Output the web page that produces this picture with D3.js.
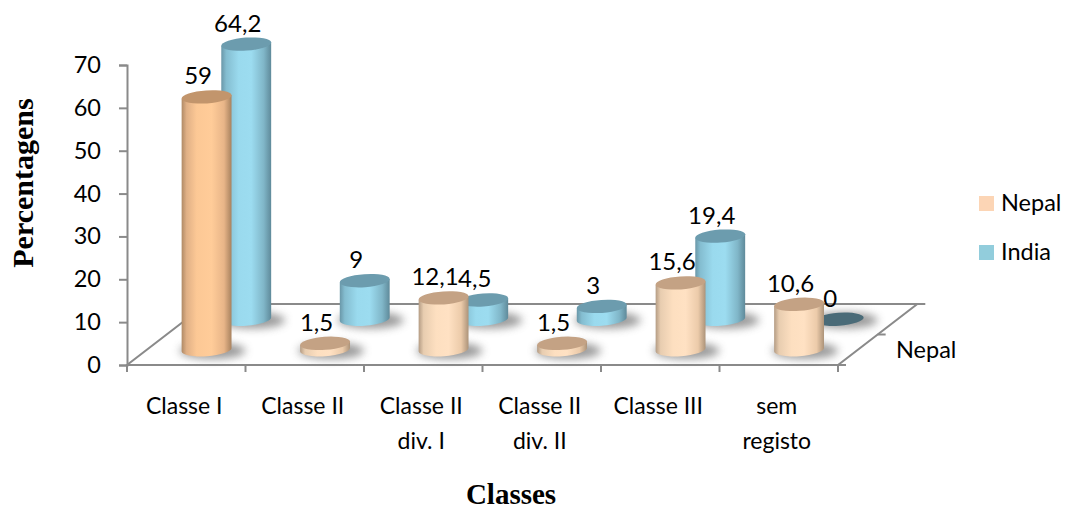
<!DOCTYPE html>
<html>
    <head>
        <meta charset="UTF-8"/>
        <style>
            body { margin: 0; background: #fff; }
            text { font-family: Lato, sans-serif; fill: #000; }
        </style>
    </head>
    <body>
        <script src="https://d3js.org/d3.v7.min.js" type="text/javascript"></script>
        <script>
        let width = 1069;
        let height = 510;

        let categories = ["Classe I", "Classe II", "Classe II\ndiv. I", "Classe II\ndiv. II", "Classe III", "sem\nregisto"];
        let seriesNames = ["Nepal", "India"];
        let nepal = [59, 1.5, 12.1, 1.5, 15.6, 10.6];
        let india = [64.2, 9, 4.5, 3, 19.4, 0];
        let yTicks = [0, 10, 20, 30, 40, 50, 60, 70];
        let depthLabel = "Nepal";

        let svg = d3.select("body")
            .append("svg")
            .style("display", "block")
            .attr("width", width)
            .attr("height", height);

        let x = d3.scaleBand().domain(categories).range([127, 838]);
        let y = d3.scaleLinear().domain([0, 70]).range([365, 65]);
        let depth = d3.scaleBand().domain(seriesNames).range([0, 61]);
        let shear = 1.3;
        let rx = 25, ry = 6.5, tilt = -4;
        let comma = d3.formatLocale({decimal: ",", thousands: ".", grouping: [3], currency: ["", ""]}).format("~r");
        let axisColor = "#8a8a8a";

        // gradients for the cylinder sides
        let defs = svg.append("defs");
        function sideGradient(id, stops) {
            let g = defs.append("linearGradient").attr("id", id);
            stops.forEach(function(s) {
                g.append("stop").attr("offset", s[0]).attr("stop-color", s[1]);
            });
        }
        sideGradient("nepalDeep", [[0, "#b08a66"], [0.1, "#e0b086"], [0.3, "#fcc895"], [0.6, "#ffcc99"], [0.85, "#e8b588"], [1, "#a8825f"]]);
        sideGradient("nepalPale", [[0, "#b49c84"], [0.1, "#e8cdb0"], [0.35, "#fddfc0"], [0.6, "#ffe1c3"], [0.85, "#eccbaa"], [1, "#ac9379"]]);
        sideGradient("india", [[0, "#6a97a8"], [0.1, "#84bdd0"], [0.35, "#9adaee"], [0.6, "#9cdcf0"], [0.85, "#80b6c8"], [1, "#5f8a9a"]]);
        defs.append("filter").attr("id", "blur")
            .attr("x", "-30%").attr("y", "-80%").attr("width", "160%").attr("height", "260%")
            .append("feGaussianBlur").attr("stdDeviation", 4);

        function project(px, d) {
            return [px + d * shear, y(0) - d];
        }

        // floor outline
        let floorLeft = x.range()[0], floorRight = x.range()[1], floorDepth = depth.range()[1];
        let floor = [project(floorLeft, 0), project(floorRight, 0), project(floorRight, floorDepth), project(floorLeft, floorDepth)];
        svg.append("path")
            .attr("d", d3.line()(floor) + "Z")
            .attr("fill", "#fff")
            .attr("stroke", axisColor)
            .attr("stroke-width", 2);

        // y axis
        let yAxis = svg.append("g")
            .attr("transform", "translate(" + floorLeft + ",0)")
            .call(d3.axisLeft(y).tickValues(yTicks).tickSize(8).tickPadding(18).tickSizeOuter(8));
        yAxis.selectAll("path, line").attr("stroke", axisColor).attr("stroke-width", 2);
        yAxis.selectAll("text").attr("font-size", 23.5);

        // x axis ticks sit on the band edges
        let edges = categories.map(function(c) { return x(c); }).concat([floorRight]);
        svg.append("g").selectAll("line")
            .data(edges)
            .enter()
            .append("line")
            .attr("x1", function(d) { return d; })
            .attr("x2", function(d) { return d; })
            .attr("y1", y(0))
            .attr("y2", y(0) + 7)
            .attr("stroke", axisColor)
            .attr("stroke-width", 2);

        // depth axis ticks
        svg.append("g").selectAll("line")
            .data([0, depth.bandwidth(), floorDepth])
            .enter()
            .append("line")
            .attr("x1", function(d) { return project(floorRight, d)[0]; })
            .attr("x2", function(d) { return project(floorRight, d)[0] + 8; })
            .attr("y1", function(d) { return project(floorRight, d)[1]; })
            .attr("y2", function(d) { return project(floorRight, d)[1]; })
            .attr("stroke", axisColor)
            .attr("stroke-width", 2);
        svg.append("text")
            .attr("x", 896).attr("y", 358)
            .attr("font-size", 23.5)
            .text(depthLabel);

        // x labels
        let labels = svg.append("g").selectAll("text")
            .data(categories)
            .enter()
            .append("text")
            .attr("text-anchor", "middle")
            .attr("font-size", 23);
        labels.selectAll("tspan")
            .data(function(d) {
                return d.split("\n").map(function(line) { return {line: line, cat: d}; });
            })
            .enter()
            .append("tspan")
            .attr("x", function(d) { return x(d.cat) + x.bandwidth() / 2 - 2; })
            .attr("y", function(d, i) { return 414 + i * 35; })
            .text(function(d) { return d.line; });

        // cylinders, back row first
        let rows = [
            {name: "India", values: india, top: "#6c9cae"},
            {name: "Nepal", values: nepal, top: "#c4a284"}
        ];
        let tiltRad = tilt * Math.PI / 180;
        rows.forEach(function(row) {
            let d0 = depth(row.name) + depth.bandwidth() / 2;
            let g = svg.append("g");
            let items = categories.map(function(c, i) {
                let p = project(x(c) + x.bandwidth() / 2, d0);
                return {
                    cat: c,
                    i: i,
                    value: row.values[i],
                    cx: p[0] + 0.5,
                    base: p[1],
                    top: p[1] - (y(0) - y(row.values[i]))
                };
            });

            g.selectAll(".shadow")
                .data(items)
                .enter()
                .append("ellipse")
                .attr("class", "shadow")
                .attr("cx", function(d) { return d.cx + 6; })
                .attr("cy", function(d) { return d.base + 1; })
                .attr("rx", rx + 8)
                .attr("ry", ry + 1.5)
                .attr("fill", "#777")
                .attr("opacity", 0.75)
                .attr("filter", "url(#blur)");

            let dxEnd = rx * Math.cos(tiltRad), dyEnd = rx * Math.sin(tiltRad);
            g.selectAll(".side")
                .data(items.filter(function(d) { return d.value > 0; }))
                .enter()
                .append("path")
                .attr("class", "side")
                .attr("d", function(d) {
                    return "M" + (d.cx - dxEnd) + "," + (d.top - dyEnd) +
                        "L" + (d.cx - dxEnd) + "," + (d.base - dyEnd) +
                        "A" + rx + "," + ry + " " + tilt + " 0 0 " + (d.cx + dxEnd) + "," + (d.base + dyEnd) +
                        "L" + (d.cx + dxEnd) + "," + (d.top + dyEnd) + "Z";
                })
                .attr("fill", function(d) {
                    if (row.name === "India") return "url(#india)";
                    return d.i === 0 ? "url(#nepalDeep)" : "url(#nepalPale)";
                });

            g.selectAll(".cap")
                .data(items)
                .enter()
                .append("ellipse")
                .attr("class", "cap")
                .attr("cx", 0).attr("cy", 0)
                .attr("rx", rx).attr("ry", ry)
                .attr("transform", function(d) {
                    return "translate(" + d.cx + "," + d.top + ")rotate(" + tilt + ")";
                })
                .attr("fill", function(d) {
                    if (d.value === 0) return "#4a6b78";
                    if (row.name === "Nepal" && d.i === 0) return "#c2956c";
                    return row.top;
                });
        });

        // value labels go on top of everything
        rows.forEach(function(row) {
            let d0 = depth(row.name) + depth.bandwidth() / 2;
            svg.append("g").selectAll("text")
                .data(row.values)
                .enter()
                .append("text")
                .attr("text-anchor", "middle")
                .attr("font-size", 24)
                .attr("x", function(d, i) {
                    return project(x(categories[i]) + x.bandwidth() / 2, d0)[0] - 8;
                })
                .attr("y", function(d) { return project(0, d0)[1] - (y(0) - y(d)) - 12.5; })
                .text(function(d) { return comma(d); });
        });

        // legend
        let legendColors = ["#fcd5b5", "#92cddc"];
        let legend = svg.append("g").selectAll("g")
            .data(seriesNames)
            .enter()
            .append("g")
            .attr("transform", function(d, i) { return "translate(979," + (196 + i * 49) + ")"; });
        legend.append("rect")
            .attr("width", 15).attr("height", 15)
            .attr("fill", function(d, i) { return legendColors[i]; });
        legend.append("text")
            .attr("x", 22).attr("y", 15)
            .attr("font-size", 23.5)
            .text(function(d) { return d; });

        // axis titles
        svg.append("text")
            .attr("x", 511).attr("y", 503.5)
            .attr("text-anchor", "middle")
            .attr("font-size", 29)
            .attr("font-weight", "bold")
            .style("font-family", "'Liberation Serif', serif")
            .text("Classes");
        svg.append("text")
            .attr("transform", "translate(33,183)rotate(-90)")
            .attr("text-anchor", "middle")
            .attr("font-size", 30)
            .attr("font-weight", "bold")
            .style("font-family", "'Liberation Serif', serif")
            .text("Percentagens");
        </script>
    </body>
</html>
